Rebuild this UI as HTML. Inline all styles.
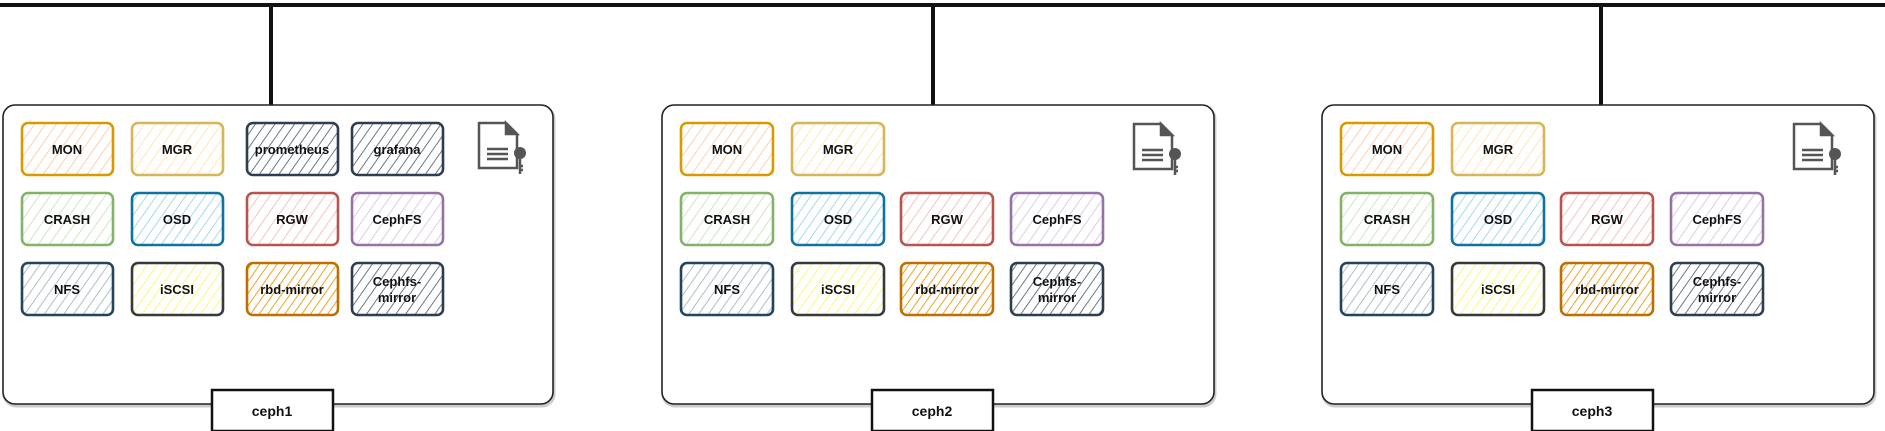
<!DOCTYPE html>
<html><head><meta charset="utf-8"><style>
html,body{margin:0;padding:0;background:#fff;}
svg{display:block;}
text{font-family:"Liberation Sans",sans-serif;font-weight:bold;font-size:13px;text-anchor:middle;fill:#111;}
.lbl{font-size:14px;}
</style></head><body>
<svg width="1885" height="431" viewBox="0 0 1885 431" xmlns="http://www.w3.org/2000/svg">
<defs>
<pattern id="pMON" width="9" height="9" patternUnits="userSpaceOnUse" patternTransform="rotate(35)"><rect width="9" height="9" fill="#fff"/><line x1="0" y1="0" x2="0" y2="9" stroke="#ffd0b0" stroke-width="2"/></pattern>
<pattern id="pMGR" width="9" height="9" patternUnits="userSpaceOnUse" patternTransform="rotate(35)"><rect width="9" height="9" fill="#fff"/><line x1="0" y1="0" x2="0" y2="9" stroke="#ffe8b8" stroke-width="2"/></pattern>
<pattern id="pDK" width="8" height="8" patternUnits="userSpaceOnUse" patternTransform="rotate(35)"><rect width="8" height="8" fill="#fff"/><line x1="0" y1="0" x2="0" y2="8" stroke="#4a5866" stroke-width="1.6"/></pattern>
<pattern id="pNFS" width="8" height="8" patternUnits="userSpaceOnUse" patternTransform="rotate(35)"><rect width="8" height="8" fill="#fff"/><line x1="0" y1="0" x2="0" y2="8" stroke="#b0bfcc" stroke-width="2"/></pattern>
<pattern id="pCR" width="9" height="9" patternUnits="userSpaceOnUse" patternTransform="rotate(35)"><rect width="9" height="9" fill="#fff"/><line x1="0" y1="0" x2="0" y2="9" stroke="#cfe6c8" stroke-width="2"/></pattern>
<pattern id="pOSD" width="8" height="8" patternUnits="userSpaceOnUse" patternTransform="rotate(35)"><rect width="8" height="8" fill="#fff"/><line x1="0" y1="0" x2="0" y2="8" stroke="#a8d8ef" stroke-width="2"/></pattern>
<pattern id="pRGW" width="9" height="9" patternUnits="userSpaceOnUse" patternTransform="rotate(35)"><rect width="9" height="9" fill="#fff"/><line x1="0" y1="0" x2="0" y2="9" stroke="#f5c4c2" stroke-width="2"/></pattern>
<pattern id="pFS" width="9" height="9" patternUnits="userSpaceOnUse" patternTransform="rotate(35)"><rect width="9" height="9" fill="#fff"/><line x1="0" y1="0" x2="0" y2="9" stroke="#ddcde6" stroke-width="2"/></pattern>
<pattern id="pIS" width="8" height="8" patternUnits="userSpaceOnUse" patternTransform="rotate(35)"><rect width="8" height="8" fill="#fff"/><line x1="0" y1="0" x2="0" y2="8" stroke="#fff680" stroke-width="2"/></pattern>
<pattern id="pRBD" width="7" height="7" patternUnits="userSpaceOnUse" patternTransform="rotate(35)"><rect width="7" height="7" fill="#fff"/><line x1="0" y1="0" x2="0" y2="7" stroke="#eb9a10" stroke-width="1.8"/></pattern>
<g id="icon" fill="none" stroke="#555" stroke-width="2.5">
<path d="M1 1 H28 L39 12 V46 H1 Z" fill="#fff"/>
<path d="M28 1 V12 H39 Z" fill="#555"/>
<line x1="9" y1="27" x2="30" y2="27"/><line x1="9" y1="32" x2="30" y2="32"/><line x1="9" y1="37" x2="30" y2="37"/>
<circle cx="42" cy="31" r="6" fill="#555" stroke="none"/>
<path d="M42 34 V52 M42 44 H45 M42 48 H45"/>
</g>
</defs>

<rect x="0" y="3" width="1885" height="4" fill="#111"/>
<rect x="269" y="3" width="4" height="103" fill="#111"/>
<rect x="931" y="3" width="4" height="103" fill="#111"/>
<rect x="1599" y="3" width="4" height="103" fill="#111"/>

<rect x="4" y="107" width="550" height="299" rx="12" fill="none" stroke="#ccc" stroke-width="3"/>
<rect x="3" y="105" width="550" height="299" rx="12" fill="#fff" stroke="#222" stroke-width="1.6"/>
<rect x="663" y="107" width="552" height="299" rx="12" fill="none" stroke="#ccc" stroke-width="3"/>
<rect x="662" y="105" width="552" height="299" rx="12" fill="#fff" stroke="#222" stroke-width="1.6"/>
<rect x="1323" y="107" width="552" height="299" rx="12" fill="none" stroke="#ccc" stroke-width="3"/>
<rect x="1322" y="105" width="552" height="299" rx="12" fill="#fff" stroke="#222" stroke-width="1.6"/>

<use href="#icon" x="478" y="122"/>
<use href="#icon" x="1133" y="123"/>
<use href="#icon" x="1793" y="123"/>

<g stroke-width="2.6">
<rect x="22" y="123" width="91" height="52" rx="6" fill="url(#pMON)" stroke="#d79b00"/>
<rect x="132" y="123" width="91" height="52" rx="6" fill="url(#pMGR)" stroke="#d6b656"/>
<rect x="247" y="123" width="91" height="52" rx="6" fill="url(#pDK)" stroke="#2d3e50"/>
<rect x="352" y="123" width="91" height="52" rx="6" fill="url(#pDK)" stroke="#2d3e50"/>
<rect x="22" y="193" width="91" height="52" rx="6" fill="url(#pCR)" stroke="#82b366"/>
<rect x="132" y="193" width="91" height="52" rx="6" fill="url(#pOSD)" stroke="#10739e"/>
<rect x="247" y="193" width="91" height="52" rx="6" fill="url(#pRGW)" stroke="#b85450"/>
<rect x="352" y="193" width="91" height="52" rx="6" fill="url(#pFS)" stroke="#9673a6"/>
<rect x="22" y="263" width="91" height="52" rx="6" fill="url(#pNFS)" stroke="#23445d"/>
<rect x="132" y="263" width="91" height="52" rx="6" fill="url(#pIS)" stroke="#36393d"/>
<rect x="247" y="263" width="91" height="52" rx="6" fill="url(#pRBD)" stroke="#bd7000"/>
<rect x="352" y="263" width="91" height="52" rx="6" fill="url(#pDK)" stroke="#2d3e50"/>
<rect x="681" y="123" width="92" height="52" rx="6" fill="url(#pMON)" stroke="#d79b00"/>
<rect x="792" y="123" width="92" height="52" rx="6" fill="url(#pMGR)" stroke="#d6b656"/>
<rect x="681" y="193" width="92" height="52" rx="6" fill="url(#pCR)" stroke="#82b366"/>
<rect x="792" y="193" width="92" height="52" rx="6" fill="url(#pOSD)" stroke="#10739e"/>
<rect x="901" y="193" width="92" height="52" rx="6" fill="url(#pRGW)" stroke="#b85450"/>
<rect x="1011" y="193" width="92" height="52" rx="6" fill="url(#pFS)" stroke="#9673a6"/>
<rect x="681" y="263" width="92" height="52" rx="6" fill="url(#pNFS)" stroke="#23445d"/>
<rect x="792" y="263" width="92" height="52" rx="6" fill="url(#pIS)" stroke="#36393d"/>
<rect x="901" y="263" width="92" height="52" rx="6" fill="url(#pRBD)" stroke="#bd7000"/>
<rect x="1011" y="263" width="92" height="52" rx="6" fill="url(#pDK)" stroke="#2d3e50"/>
<rect x="1341" y="123" width="92" height="52" rx="6" fill="url(#pMON)" stroke="#d79b00"/>
<rect x="1452" y="123" width="92" height="52" rx="6" fill="url(#pMGR)" stroke="#d6b656"/>
<rect x="1341" y="193" width="92" height="52" rx="6" fill="url(#pCR)" stroke="#82b366"/>
<rect x="1452" y="193" width="92" height="52" rx="6" fill="url(#pOSD)" stroke="#10739e"/>
<rect x="1561" y="193" width="92" height="52" rx="6" fill="url(#pRGW)" stroke="#b85450"/>
<rect x="1671" y="193" width="92" height="52" rx="6" fill="url(#pFS)" stroke="#9673a6"/>
<rect x="1341" y="263" width="92" height="52" rx="6" fill="url(#pNFS)" stroke="#23445d"/>
<rect x="1452" y="263" width="92" height="52" rx="6" fill="url(#pIS)" stroke="#36393d"/>
<rect x="1561" y="263" width="92" height="52" rx="6" fill="url(#pRBD)" stroke="#bd7000"/>
<rect x="1671" y="263" width="92" height="52" rx="6" fill="url(#pDK)" stroke="#2d3e50"/>
</g>

<text x="67" y="154">MON</text><text x="177" y="154">MGR</text><text x="292" y="154">prometheus</text><text x="397" y="154">grafana</text>
<text x="67" y="224">CRASH</text><text x="177" y="224">OSD</text><text x="292" y="224">RGW</text><text x="397" y="224">CephFS</text>
<text x="67" y="294">NFS</text><text x="177" y="294">iSCSI</text><text x="292" y="294">rbd-mirror</text><text x="397" y="286">Cephfs-</text><text x="397" y="302">mirror</text>
<text x="727" y="154">MON</text><text x="838" y="154">MGR</text>
<text x="727" y="224">CRASH</text><text x="838" y="224">OSD</text><text x="947" y="224">RGW</text><text x="1057" y="224">CephFS</text>
<text x="727" y="294">NFS</text><text x="838" y="294">iSCSI</text><text x="947" y="294">rbd-mirror</text><text x="1057" y="286">Cephfs-</text><text x="1057" y="302">mirror</text>
<text x="1387" y="154">MON</text><text x="1498" y="154">MGR</text>
<text x="1387" y="224">CRASH</text><text x="1498" y="224">OSD</text><text x="1607" y="224">RGW</text><text x="1717" y="224">CephFS</text>
<text x="1387" y="294">NFS</text><text x="1498" y="294">iSCSI</text><text x="1607" y="294">rbd-mirror</text><text x="1717" y="286">Cephfs-</text><text x="1717" y="302">mirror</text>

<g fill="#fff" stroke="#111" stroke-width="2.5">
<rect x="212" y="390" width="121" height="41"/>
<rect x="872" y="390" width="121" height="41"/>
<rect x="1532" y="390" width="121" height="41"/>
</g>
<text class="lbl" x="272" y="416">ceph1</text>
<text class="lbl" x="932" y="416">ceph2</text>
<text class="lbl" x="1592" y="416">ceph3</text>
</svg>
</body></html>
